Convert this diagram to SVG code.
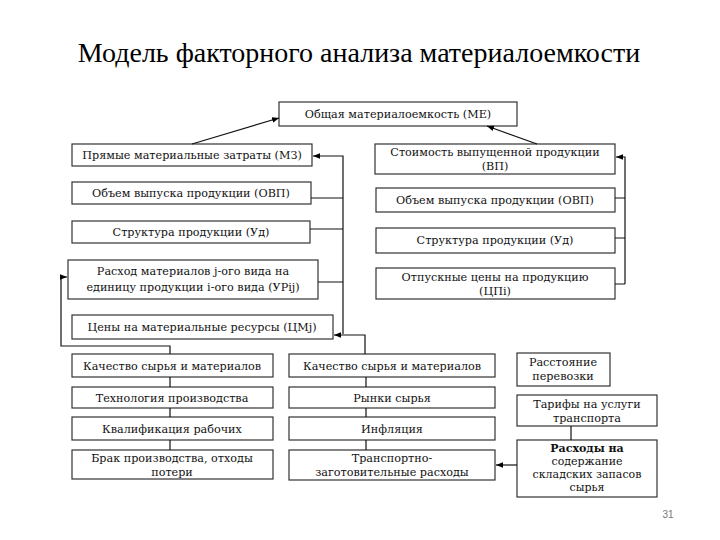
<svg xmlns="http://www.w3.org/2000/svg" width="720" height="540" viewBox="0 0 720 540">
<defs>
<marker id="ah" viewBox="0 0 10 10" refX="10" refY="5" markerWidth="7" markerHeight="7" markerUnits="userSpaceOnUse" orient="auto">
<path d="M0,1 L10,5 L0,9 z" fill="#000"/>
</marker>
</defs>
<style>
.b{fill:#fff;stroke:#333;stroke-width:1.2}
.t{font-family:'DejaVu Serif','Liberation Serif',serif;font-size:11.2px;fill:#111;text-anchor:middle}
.s{font-size:11px}
.c{fill:none;stroke:#111;stroke-width:1.2}
.a{marker-end:url(#ah)}
</style>
<rect width="720" height="540" fill="#fff"/>
<text x="359" y="62" font-family="'Liberation Serif','Times New Roman',serif" font-size="28" text-anchor="middle" fill="#000">Модель факторного анализа материалоемкости</text>

<g id="n-me"><rect class="b" x="279" y="102" width="238" height="24"/><text class="t" x="398" y="118">Общая материалоемкость (МЕ)</text></g>

<g id="n-mz"><rect class="b" x="72" y="144" width="240" height="22"/><text class="t" x="192" y="159">Прямые материальные затраты (МЗ)</text></g>
<g id="n-ovp-l"><rect class="b" x="72" y="182" width="239" height="22"/><text class="t" x="191" y="197">Объем выпуска продукции  (ОВП)</text></g>
<g id="n-ud-l"><rect class="b" x="72" y="221" width="238" height="22"/><text class="t" x="191" y="236">Структура продукции (Уд)</text></g>
<g id="n-ur"><rect class="b" x="68" y="260" width="250" height="39"/><text class="t" x="193" y="275">Расход материалов j-ого вида на</text><text class="t" x="193" y="291">единицу продукции i-ого вида (УРij)</text></g>
<g id="n-cm"><rect class="b" x="72" y="315" width="261" height="24"/><text class="t" x="202" y="331">Цены на материальные ресурсы (ЦМj)</text></g>

<g id="n-vp"><rect class="b" x="375" y="144" width="240" height="30"/><text class="t" x="495" y="156">Стоимость выпущенной продукции</text><text class="t" x="495" y="170">(ВП)</text></g>
<g id="n-ovp-r"><rect class="b" x="376" y="188" width="239" height="24"/><text class="t" x="495" y="204">Объем выпуска продукции  (ОВП)</text></g>
<g id="n-ud-r"><rect class="b" x="376" y="228" width="239" height="25"/><text class="t" x="495" y="244">Структура продукции (Уд)</text></g>
<g id="n-cp"><rect class="b" x="376" y="268" width="239" height="31"/><text class="t" x="495" y="281">Отпускные цены на продукцию</text><text class="t" x="495" y="295">(ЦПi)</text></g>

<g id="n-l1"><rect class="b" x="72" y="354" width="201" height="23"/><text class="t" x="172" y="370">Качество сырья и материалов</text></g>
<g id="n-l2"><rect class="b" x="72" y="387" width="201" height="21"/><text class="t" x="172" y="402">Технология производства</text></g>
<g id="n-l3"><rect class="b" x="72" y="417" width="201" height="23"/><text class="t" x="172" y="433">Квалификация рабочих</text></g>
<g id="n-l4"><rect class="b" x="72" y="450" width="201" height="29"/><text class="t" x="172" y="462">Брак производства, отходы</text><text class="t" x="172" y="476">потери</text></g>

<g id="n-m1"><rect class="b" x="289" y="354" width="206" height="23"/><text class="t" x="392" y="370">Качество сырья и материалов</text></g>
<g id="n-m2"><rect class="b" x="289" y="387" width="206" height="21"/><text class="t" x="392" y="402">Рынки сырья</text></g>
<g id="n-m3"><rect class="b" x="289" y="417" width="206" height="23"/><text class="t" x="392" y="433">Инфляция</text></g>
<g id="n-m4"><rect class="b" x="289" y="450" width="206" height="30"/><text class="t" x="392" y="462">Транспортно-</text><text class="t" x="392" y="476">заготовительные расходы</text></g>

<g id="n-r1"><rect class="b" x="517" y="353" width="93" height="33"/><text class="t" x="563" y="366">Расстояние</text><text class="t" x="563" y="380">перевозки</text></g>
<g id="n-r2"><rect class="b" x="517" y="395" width="140" height="31"/><text class="t" x="587" y="408">Тарифы на услуги</text><text class="t" x="587" y="422">транспорта</text></g>
<g id="n-r3"><rect class="b" x="517" y="440" width="140" height="57"/><text class="t s" x="587" y="452" font-weight="bold">Расходы на</text><text class="t s" x="587" y="465">содержание</text><text class="t s" x="587" y="478">складских запасов</text><text class="t s" x="587" y="491">сырья</text></g>

<g id="connectors">
<path class="c a" d="M192,144 L279,118"/>
<path class="c a" d="M537,144 L487,126"/>
<path class="c a" d="M343,334 V156 H313"/>
<path class="c" d="M311,198 H343 M310,229 H343 M318,282 H343"/>
<path class="c a" d="M365,354 V335 H334"/>
<path class="c a" d="M625,284 V157 H616"/>
<path class="c" d="M615,198 H625 M615,238 H625 M615,284 H625"/>
<path class="c a" d="M170,354 V346 H61 V277 H67"/>
<path class="c" d="M170,377 V387 M170,408 V417 M170,440 V450"/>
<path class="c" d="M366,377 V387 M366,408 V417 M366,440 V450"/>
<path class="c" d="M571,426 V440"/>
<path class="c a" d="M517,465 H496"/>
</g>
<text x="668" y="518" font-family="'Liberation Sans',sans-serif" font-size="10" fill="#777" text-anchor="middle">31</text>
</svg>
